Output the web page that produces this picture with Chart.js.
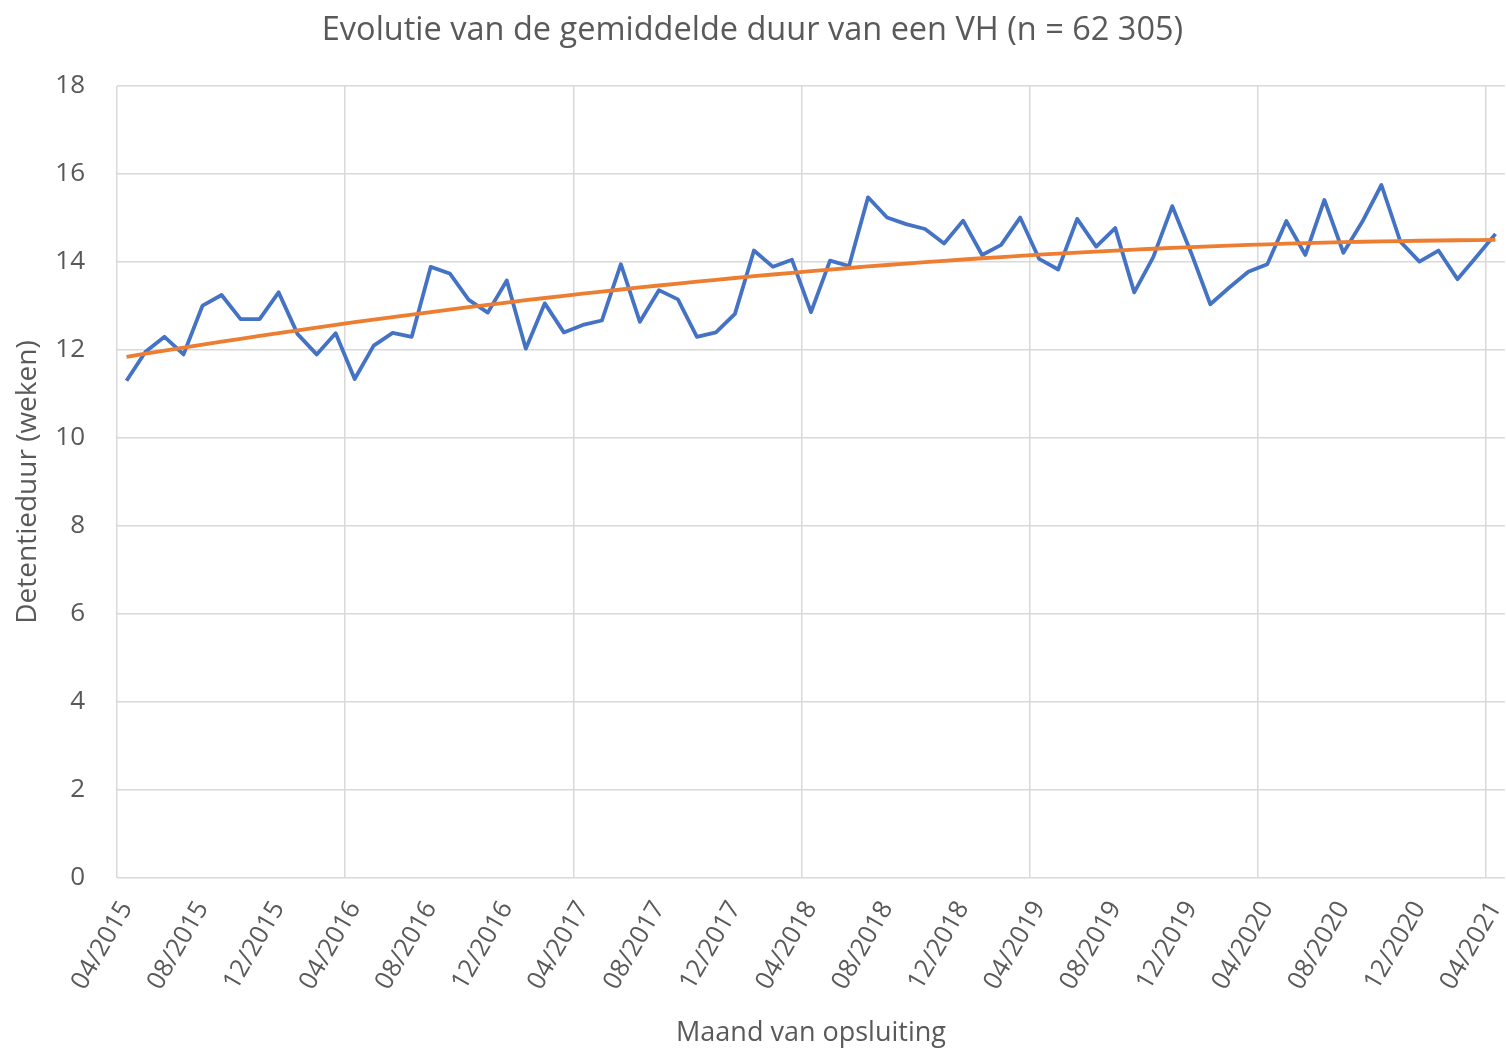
<!DOCTYPE html>
<html>
<head>
<meta charset="utf-8">
<script src="https://cdn.jsdelivr.net/npm/chart.js@4.4.1/dist/chart.umd.min.js"></script>
<style>
  html, body { margin: 0; padding: 0; background: #ffffff; }
  #wrap { width: 1506px; height: 1048px; position: relative; }
</style>
</head>
<body>
<div id="wrap"><canvas id="c" width="1506" height="1048"></canvas></div>
<script>
// ---- Data ----
const chartTitle = "Evolutie van de gemiddelde duur van een VH (n = 62 305)";
const yAxisTitle = "Detentieduur (weken)";
const xAxisTitle = "Maand van opsluiting";

const months = [
  "04/2015","05/2015","06/2015","07/2015","08/2015","09/2015","10/2015","11/2015","12/2015",
  "01/2016","02/2016","03/2016","04/2016","05/2016","06/2016","07/2016","08/2016","09/2016","10/2016","11/2016","12/2016",
  "01/2017","02/2017","03/2017","04/2017","05/2017","06/2017","07/2017","08/2017","09/2017","10/2017","11/2017","12/2017",
  "01/2018","02/2018","03/2018","04/2018","05/2018","06/2018","07/2018","08/2018","09/2018","10/2018","11/2018","12/2018",
  "01/2019","02/2019","03/2019","04/2019","05/2019","06/2019","07/2019","08/2019","09/2019","10/2019","11/2019","12/2019",
  "01/2020","02/2020","03/2020","04/2020","05/2020","06/2020","07/2020","08/2020","09/2020","10/2020","11/2020","12/2020",
  "01/2021","02/2021","03/2021","04/2021"
];

const avgDuration = [
  11.30, 11.96, 12.30, 11.90, 13.01, 13.25, 12.70, 12.70, 13.31,
  12.36, 11.90, 12.38, 11.34, 12.10, 12.39, 12.30, 13.89, 13.74, 13.14, 12.85, 13.58,
  12.03, 13.06, 12.40, 12.57, 12.67, 13.95, 12.64, 13.36, 13.15, 12.30, 12.40, 12.82,
  14.26, 13.89, 14.05, 12.86, 14.03, 13.91, 15.47, 15.01, 14.86, 14.75, 14.42, 14.94,
  14.16, 14.39, 15.01, 14.07, 13.83, 14.98, 14.35, 14.77, 13.31, 14.11, 15.27, 14.20,
  13.04, 13.42, 13.78, 13.95, 14.93, 14.16, 15.41, 14.21, 14.92, 15.75, 14.46, 14.01,
  14.26, 13.61, 14.12, 14.64
];

const yTicks = [0, 2, 4, 6, 8, 10, 12, 14, 16, 18];

// Order-2 polynomial least-squares trendline of the series (as in the source chart)
function polyTrend(values) {
  const n = values.length;
  let S = [0,0,0,0,0], T = [0,0,0];
  for (let i = 0; i < n; i++) {
    const x = i + 1, y = values[i];
    let p = 1;
    for (let k = 0; k < 5; k++) { S[k] += p; if (k < 3) T[k] += p * y; p *= x; }
  }
  const A = [[S[0],S[1],S[2],T[0]],[S[1],S[2],S[3],T[1]],[S[2],S[3],S[4],T[2]]];
  for (let c = 0; c < 3; c++) {
    for (let r = c + 1; r < 3; r++) {
      const f = A[r][c] / A[c][c];
      for (let k = c; k < 4; k++) A[r][k] -= f * A[c][k];
    }
  }
  const coef = [0,0,0];
  for (let r = 2; r >= 0; r--) {
    let s = A[r][3];
    for (let k = r + 1; k < 3; k++) s -= A[r][k] * coef[k];
    coef[r] = s / A[r][r];
  }
  return values.map((_, i) => coef[0] + coef[1] * (i + 1) + coef[2] * (i + 1) * (i + 1));
}
const trend = polyTrend(avgDuration);

const FONT = "'Open Sans', 'DejaVu Sans', sans-serif";
const TXT = '#595959';
const GRID = '#d9d9d9';

new Chart(document.getElementById('c'), {
  type: 'line',
  data: {
    labels: months,
    datasets: [
      {
        label: 'Trend',
        data: trend,
        borderColor: '#ED7D31',
        borderWidth: 3.8,
        pointRadius: 0,
        tension: 0,
        fill: false,
        order: 0
      },
      {
        label: 'Gemiddelde duur',
        data: avgDuration,
        borderColor: '#4472C4',
        borderWidth: 3.8,
        pointRadius: 0,
        tension: 0,
        fill: false,
        borderJoinStyle: 'round',
        order: 1
      }
    ]
  },
  options: {
    responsive: false,
    animation: false,
    devicePixelRatio: 1,
    layout: { padding: { left: 0, right: 1, top: 0, bottom: 0 } },
    plugins: {
      legend: { display: false },
      tooltip: { enabled: false },
      title: {
        display: true,
        text: chartTitle,
        color: TXT,
        font: { family: FONT, size: 32.5, weight: 'normal', lineHeight: 1.2 },
        padding: { top: 11, bottom: 36 }
      }
    },
    scales: {
      x: {
        type: 'category',
        offset: true,
        grid: {
          offset: true,
          drawTicks: false,
          lineWidth: 1.5,
          color: (ctx) => (ctx.index !== undefined && ctx.index % 12 === 0) ? GRID : 'rgba(0,0,0,0)'
        },
        border: { display: false },
        ticks: {
          autoSkip: false,
          minRotation: 60,
          maxRotation: 60,
          padding: 18,
          color: TXT,
          font: { family: FONT, size: 25.5 },
          callback: function(value, index) { return index % 4 === 0 ? months[index] : ''; }
        },
        title: {
          display: true,
          text: xAxisTitle,
          color: TXT,
          font: { family: FONT, size: 27, lineHeight: 1.0 },
          padding: { top: 0, bottom: 1.5 }
        },
        afterFit: (s) => { s.height = 170; s.paddingLeft = 0; s.paddingRight = 0; }
      },
      y: {
        min: 0,
        max: 18,
        afterBuildTicks: (s) => { s.ticks = yTicks.map(v => ({ value: v })); },
        grid: { drawTicks: false, color: GRID, lineWidth: 1.5 },
        border: { display: false },
        ticks: {
          padding: 32,
          color: TXT,
          font: { family: FONT, size: 26 }
        },
        title: {
          display: true,
          text: yAxisTitle,
          color: TXT,
          font: { family: FONT, size: 28, lineHeight: 1.2 },
          padding: { top: 11, bottom: 0 }
        },
        afterFit: (s) => { s.width = 117; }
      }
    }
  }
});
</script>
</body>
</html>
